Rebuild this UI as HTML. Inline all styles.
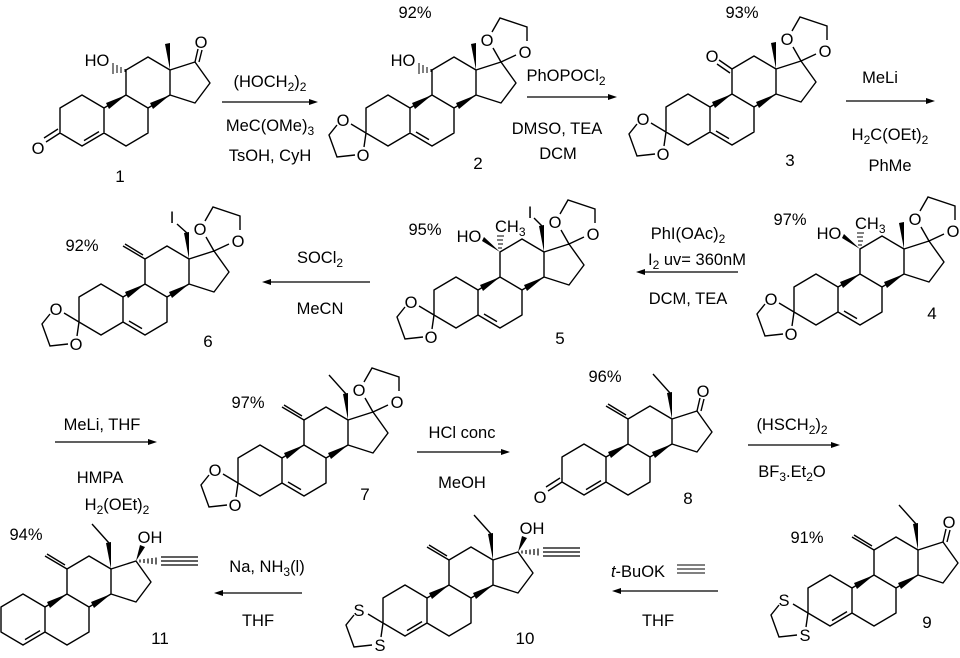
<!DOCTYPE html>
<html><head><meta charset="utf-8"><style>
html,body{margin:0;padding:0;background:#fff;}
svg{display:block;}
text{font-family:"Liberation Sans",sans-serif;fill:#000;}
</style></head><body>
<svg width="960" height="658" viewBox="0 0 960 658" xmlns="http://www.w3.org/2000/svg">
<defs>
<g id="sk" fill="none" stroke="#000" stroke-width="1.4" stroke-linejoin="round">
<path d="M0,0 L-22,-13 L-44,0 L-44,25 L-22,38 L0,25 Z M0,25 L22,38 L44,25 L44,0 L22,-13 L0,0 M22,-13 L22,-38 L44,-51 L66,-38 L66,-13 L44,0 M66,-38 L91,-46 L106,-25 L91,-5 L66,-13"/>
<polygon points="22,-13 2,-5 5,1" fill="#000" stroke="none"/>
<polygon points="66,-13 46,-5 49,1" fill="#000" stroke="none"/>
</g>
<path id="db56" d="M6,24 L19,31.6" stroke="#000" stroke-width="1.4"/>
<path id="db45" d="M-20,32.6 L-5,23.6" stroke="#000" stroke-width="1.4"/>
<g id="ket3" stroke="#000" stroke-width="1.4" fill="none"><path d="M-44,25 L-59,16 M-44,25 L-46,39 M-73,17 L-81,27 L-73,49 L-55,47"/></g>
<g id="ket17" stroke="#000" stroke-width="1.4" fill="none"><path d="M91,-46 L83,-60 M91,-46 L106,-53 M82,-76 L90,-90 L117,-81 L117,-67"/></g>
<polygon id="me13" points="66,-38 61,-64 66,-65"/>
<g id="c3o" stroke="#000" stroke-width="1.4"><path d="M-44,25 L-58,34 M-46,21 L-60,30"/></g>
<g id="c17o" stroke="#000" stroke-width="1.4"><path d="M91,-46 L94,-59 M95,-46 L98,-58"/></g>
<g id="exo" stroke="#000" stroke-width="1.4"><path d="M22,-38 L0,-51 M20,-42 L2,-53"/></g>
<g id="ethyl"><polygon points="66,-38 61,-64 66,-65"/><path d="M64,-64 L47,-83" stroke="#000" stroke-width="1.4"/></g>
<g id="eth17"><polygon points="91,-46 95,-62 100,-60"/><path d="M95,-47.5 L95,-44.5 M99,-48 L99,-44 M103,-48.5 L103,-43.5 M107,-49 L107,-43 M111,-49.5 L111,-42.5 M116,-50 L153,-50 M116,-46 L153,-46 M116,-42 L153,-42" stroke="#000" stroke-width="1.2"/></g>
</defs>

<!-- 1 -->
<g transform="translate(104,108)">
<use href="#sk"/><use href="#db45"/><use href="#c3o"/><use href="#c17o"/><use href="#me13"/>
<path d="M21,-39 L21,-36 M17,-41 L17,-35 M13,-43 L13,-35 M9,-45 L9,-34" stroke="#000" stroke-width="1"/>
<text x="-66" y="46" font-size="16.5" text-anchor="middle">O</text>
<text x="97" y="-60" font-size="16.5" text-anchor="middle">O</text>
<text x="-7" y="-42" font-size="16.5" text-anchor="middle">HO</text>
</g>
<text x="120" y="182" font-size="17" text-anchor="middle">1</text>

<!-- 2 -->
<g transform="translate(410,108)">
<use href="#sk"/><use href="#db56"/><use href="#ket3"/><use href="#ket17"/><use href="#me13"/>
<path d="M21,-39 L21,-36 M17,-41 L17,-35 M13,-43 L13,-35 M9,-45 L9,-34" stroke="#000" stroke-width="1"/>
<text x="-67" y="18" font-size="16.5" text-anchor="middle">O</text>
<text x="-47" y="53" font-size="16.5" text-anchor="middle">O</text>
<text x="77" y="-62" font-size="16.5" text-anchor="middle">O</text>
<text x="115" y="-50" font-size="16.5" text-anchor="middle">O</text>
<text x="-7" y="-42" font-size="16.5" text-anchor="middle">HO</text>
</g>
<text x="415" y="18" font-size="16.5" text-anchor="middle">92%</text>
<text x="478" y="169" font-size="17" text-anchor="middle">2</text>

<!-- 3 -->
<g transform="translate(710,107)">
<use href="#sk"/><use href="#db56"/><use href="#ket3"/><use href="#ket17"/><use href="#me13"/>
<path d="M22,-38 L9,-47 M20,-34 L7,-43" stroke="#000" stroke-width="1.4"/>
<text x="-67" y="18" font-size="16.5" text-anchor="middle">O</text>
<text x="-47" y="53" font-size="16.5" text-anchor="middle">O</text>
<text x="77" y="-62" font-size="16.5" text-anchor="middle">O</text>
<text x="115" y="-50" font-size="16.5" text-anchor="middle">O</text>
<text x="2" y="-45" font-size="16.5" text-anchor="middle">O</text>
</g>
<text x="742" y="18" font-size="16.5" text-anchor="middle">93%</text>
<text x="790" y="166" font-size="17" text-anchor="middle">3</text>

<!-- 4 -->
<g transform="translate(838,287)">
<use href="#sk"/><use href="#db56"/><use href="#ket3"/><use href="#ket17"/><use href="#me13"/>
<polygon points="22,-38 4,-49 6,-53"/>
<path d="M20,-42 L24,-42 M20,-46 L25,-46 M19,-50 L25,-50 M19,-54 L26,-54" stroke="#000" stroke-width="1"/>
<text x="-67" y="18" font-size="16.5" text-anchor="middle">O</text>
<text x="-47" y="53" font-size="16.5" text-anchor="middle">O</text>
<text x="77" y="-62" font-size="16.5" text-anchor="middle">O</text>
<text x="115" y="-50" font-size="16.5" text-anchor="middle">O</text>
<text x="-9" y="-48" font-size="16.5" text-anchor="middle">HO</text>
<text x="17" y="-58" font-size="16.5">CH<tspan font-size="12" dy="4">3</tspan></text>
</g>
<text x="790" y="225" font-size="16.5" text-anchor="middle">97%</text>
<text x="932" y="319" font-size="17" text-anchor="middle">4</text>

<!-- 5 -->
<g transform="translate(478,290)">
<use href="#sk"/><use href="#db56"/><use href="#ket3"/><use href="#ket17"/>
<polygon points="66,-38 61,-64 66,-65"/><path d="M64,-64 L56,-72" stroke="#000" stroke-width="1.4"/>
<polygon points="22,-38 4,-49 6,-53"/>
<path d="M20,-42 L24,-42 M20,-46 L25,-46 M19,-50 L25,-50 M19,-54 L26,-54" stroke="#000" stroke-width="1"/>
<text x="-67" y="18" font-size="16.5" text-anchor="middle">O</text>
<text x="-47" y="53" font-size="16.5" text-anchor="middle">O</text>
<text x="77" y="-62" font-size="16.5" text-anchor="middle">O</text>
<text x="115" y="-50" font-size="16.5" text-anchor="middle">O</text>
<text x="-9" y="-48" font-size="16.5" text-anchor="middle">HO</text>
<text x="17" y="-58" font-size="16.5">CH<tspan font-size="12" dy="4">3</tspan></text>
<text x="52" y="-72" font-size="16.5" text-anchor="middle">I</text>
</g>
<text x="425" y="235" font-size="16.5" text-anchor="middle">95%</text>
<text x="560" y="344" font-size="17" text-anchor="middle">5</text>

<!-- 6 -->
<g transform="translate(123,297)">
<use href="#sk"/><use href="#db56"/><use href="#ket3"/><use href="#ket17"/><use href="#exo"/>
<polygon points="66,-38 61,-64 66,-65"/><path d="M64,-64 L54,-73" stroke="#000" stroke-width="1.4"/>
<text x="-67" y="18" font-size="16.5" text-anchor="middle">O</text>
<text x="-47" y="53" font-size="16.5" text-anchor="middle">O</text>
<text x="77" y="-62" font-size="16.5" text-anchor="middle">O</text>
<text x="115" y="-50" font-size="16.5" text-anchor="middle">O</text>
<text x="49" y="-74" font-size="16.5" text-anchor="middle">I</text>
</g>
<text x="82" y="251" font-size="16.5" text-anchor="middle">92%</text>
<text x="208" y="347" font-size="17" text-anchor="middle">6</text>

<!-- 7 -->
<g transform="translate(282,458)">
<use href="#sk"/><use href="#db56"/><use href="#ket3"/><use href="#ket17"/><use href="#exo"/><use href="#ethyl"/>
<text x="-67" y="18" font-size="16.5" text-anchor="middle">O</text>
<text x="-47" y="53" font-size="16.5" text-anchor="middle">O</text>
<text x="77" y="-62" font-size="16.5" text-anchor="middle">O</text>
<text x="115" y="-50" font-size="16.5" text-anchor="middle">O</text>
</g>
<text x="248" y="408" font-size="16.5" text-anchor="middle">97%</text>
<text x="365" y="500" font-size="17" text-anchor="middle">7</text>

<!-- 8 -->
<g transform="translate(606,457)">
<use href="#sk"/><use href="#db45"/><use href="#c3o"/><use href="#c17o"/><use href="#exo"/><use href="#ethyl"/>
<text x="-66" y="46" font-size="16.5" text-anchor="middle">O</text>
<text x="97" y="-60" font-size="16.5" text-anchor="middle">O</text>
</g>
<text x="605" y="382" font-size="16.5" text-anchor="middle">96%</text>
<text x="688" y="504" font-size="17" text-anchor="middle">8</text>

<!-- 9 -->
<g transform="translate(852,588)">
<use href="#sk"/><use href="#db45"/><use href="#ket3"/><use href="#c17o"/><use href="#exo"/><use href="#ethyl"/>
<text x="-68" y="18" font-size="16.5" text-anchor="middle">S</text>
<text x="-47" y="53" font-size="16.5" text-anchor="middle">S</text>
<text x="97" y="-60" font-size="16.5" text-anchor="middle">O</text>
</g>
<text x="807" y="543" font-size="16.5" text-anchor="middle">91%</text>
<text x="927" y="628" font-size="17" text-anchor="middle">9</text>

<!-- 10 -->
<g transform="translate(427,598)">
<use href="#sk"/><use href="#db45"/><use href="#ket3"/><use href="#exo"/><use href="#ethyl"/><use href="#eth17"/>
<text x="-68" y="18" font-size="16.5" text-anchor="middle">S</text>
<text x="-47" y="53" font-size="16.5" text-anchor="middle">S</text>
<text x="105" y="-64" font-size="16.5" text-anchor="middle">OH</text>
</g>
<text x="525" y="644" font-size="17" text-anchor="middle">10</text>

<!-- 11 -->
<g transform="translate(45,607)">
<use href="#sk"/><use href="#db45"/><use href="#exo"/><use href="#ethyl"/><use href="#eth17"/>
<text x="105" y="-64" font-size="16.5" text-anchor="middle">OH</text>
</g>
<text x="26" y="540" font-size="16.5" text-anchor="middle">94%</text>
<text x="160" y="644" font-size="17" text-anchor="middle">11</text>

<!-- arrows -->
<g stroke="#000" stroke-width="1.2">
<line x1="222" y1="102" x2="312" y2="102"/>
<line x1="527" y1="97" x2="611" y2="97"/>
<line x1="846" y1="101" x2="929" y2="101"/>
<line x1="642" y1="272" x2="738" y2="272"/>
<line x1="268" y1="282" x2="370" y2="282"/>
<line x1="55" y1="442" x2="151" y2="442"/>
<line x1="417" y1="452" x2="504" y2="452"/>
<line x1="748" y1="445" x2="834" y2="445"/>
<line x1="618" y1="591" x2="718" y2="591"/>
<line x1="220" y1="593" x2="302" y2="593"/>
</g>
<g fill="#000">
<polygon points="318,102 309,99 309,105"/>
<polygon points="617,97 608,94 608,100"/>
<polygon points="935,101 926,98 926,104"/>
<polygon points="636,272 645,269 645,275"/>
<polygon points="262,282 271,279 271,285"/>
<polygon points="157,442 148,439 148,445"/>
<polygon points="510,452 501,449 501,455"/>
<polygon points="840,445 831,442 831,448"/>
<polygon points="612,591 621,588 621,594"/>
<polygon points="214,593 223,590 223,596"/>
</g>

<g font-size="16.5" text-anchor="middle">
<text x="270" y="87">(HOCH<tspan font-size="12" dy="4">2</tspan><tspan dy="-4">)</tspan><tspan font-size="12" dy="4">2</tspan></text>
<text x="270" y="131">MeC(OMe)<tspan font-size="12" dy="4">3</tspan></text>
<text x="270" y="161">TsOH, CyH</text>
<text x="566" y="81">PhOPOCl<tspan font-size="12" dy="4">2</tspan></text>
<text x="557" y="134">DMSO, TEA</text>
<text x="558" y="159">DCM</text>
<text x="880" y="83">MeLi</text>
<text x="890" y="140">H<tspan font-size="12" dy="4">2</tspan><tspan dy="-4">C(OEt)</tspan><tspan font-size="12" dy="4">2</tspan></text>
<text x="890" y="171">PhMe</text>
<text x="688" y="239">PhI(OAc)<tspan font-size="12" dy="4">2</tspan></text>
<text x="697" y="265">I<tspan font-size="12" dy="4">2</tspan><tspan dy="-4"> uv= 360nM</tspan></text>
<text x="688" y="304">DCM, TEA</text>
<text x="320" y="263">SOCl<tspan font-size="12" dy="4">2</tspan></text>
<text x="320" y="314">MeCN</text>
<text x="102" y="430">MeLi, THF</text>
<text x="100" y="483">HMPA</text>
<text x="117" y="510">H<tspan font-size="12" dy="4">2</tspan><tspan dy="-4">(OEt)</tspan><tspan font-size="12" dy="4">2</tspan></text>
<text x="462" y="438">HCl conc</text>
<text x="462" y="488">MeOH</text>
<text x="792" y="430">(HSCH<tspan font-size="12" dy="4">2</tspan><tspan dy="-4">)</tspan><tspan font-size="12" dy="4">2</tspan></text>
<text x="792" y="477">BF<tspan font-size="12" dy="4">3</tspan><tspan dy="-4">.Et</tspan><tspan font-size="12" dy="4">2</tspan><tspan dy="-4">O</tspan></text>
<text x="638" y="577"><tspan font-style="italic">t</tspan>-BuOK</text>
<text x="658" y="626">THF</text>
<text x="267" y="572">Na, NH<tspan font-size="12" dy="4">3</tspan><tspan dy="-4">(l)</tspan></text>
<text x="258" y="626">THF</text>
</g>
<path d="M677,565 L705,565 M677,569 L705,569 M677,573 L705,573" stroke="#000" stroke-width="1.1"/>
</svg>
</body></html>
